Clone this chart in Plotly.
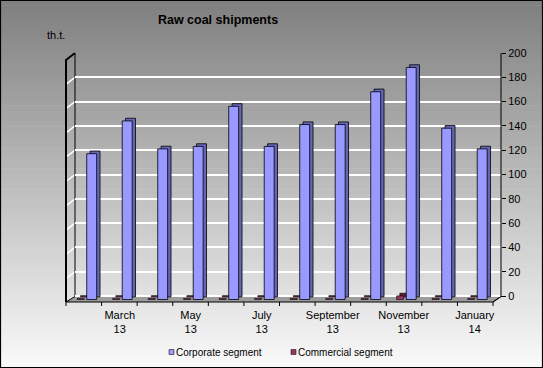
import plotly.graph_objects as go

months = ["February<br>13", "March<br>13", "April<br>13", "May<br>13", "June<br>13", "July<br>13",
          "August<br>13", "September<br>13", "October<br>13", "November<br>13", "December<br>13", "January<br>14"]
tick_labels = ["", "March<br>13", "", "May<br>13", "", "July<br>13",
               "", "September<br>13", "", "November<br>13", "", "January<br>14"]
corporate = [120, 147, 124, 126, 159, 126, 144, 144, 171, 191, 141, 124]
commercial = [1, 1, 1, 1, 1, 1, 1, 1, 1, 3, 1, 1]
series_names = ["Corporate segment", "Commercial segment"]
y_ticks = [0, 20, 40, 60, 80, 100, 120, 140, 160, 180, 200]

W, H = 543, 368
L, R, T, B = 75, 42, 53, 66
pw, ph = W - L - R, H - T - B
Y0PX = 296  # pixel row of value 0 on the back wall

def px(x):
    return (x - L) / pw

def py(y):
    return (H - B - y) / ph

FONT = "Liberation Sans, Arial, sans-serif"
BLUE, BLUE_SIDE = "#9999FF", "#6565B5"
RED, RED_SIDE = "#993366", "#5A1E3A"
DEPTH = 2.9   # 3-D projection shift (value units) of bar fronts below the back wall
SIDE = 2.2

fig = go.Figure()
fig.add_trace(go.Bar(x=months, y=corporate, base=[-DEPTH + SIDE] * 12, offset=0.165, width=0.28,
                     marker=dict(color=BLUE_SIDE, line=dict(color="#000000", width=0.8)),
                     showlegend=False, hoverinfo="skip"))
fig.add_trace(go.Bar(x=months, y=commercial, base=[-DEPTH + SIDE] * 12, offset=-0.11, width=0.2,
                     marker=dict(color=RED_SIDE, line=dict(color="#000000", width=0.6)),
                     showlegend=False, hoverinfo="skip"))
fig.add_trace(go.Bar(x=months, y=corporate, base=[-DEPTH] * 12, name=series_names[0], offset=0.07, width=0.28,
                     marker=dict(color=BLUE, line=dict(color="#000000", width=0.8)), showlegend=False))
fig.add_trace(go.Bar(x=months, y=commercial, base=[-DEPTH] * 12, name=series_names[1], offset=-0.2, width=0.2,
                     marker=dict(color=RED, line=dict(color="#000000", width=0.6)), showlegend=False))

shapes = []
# background gradient
n = 70
for i in range(n):
    y0 = H * i / n
    y1 = H * (i + 1) / n + 0.6
    c = int(128 + (250 - 128) * (i / (n - 1)))
    shapes.append(dict(type="rect", xref="paper", yref="paper", x0=px(0), x1=px(W),
                       y0=py(y1), y1=py(y0), fillcolor=f"rgb({c},{c},{c})", line=dict(width=0),
                       layer="below"))
# gridlines continuing on the left wall
for v in y_ticks[1:]:
    yy = Y0PX - v * (Y0PX - 53) / 200
    shapes.append(dict(type="line", xref="paper", yref="paper", x0=px(75), x1=px(66), y0=py(yy), y1=py(yy + 7),
                       line=dict(color="#ffffff", width=1.5), layer="below"))
# floor
shapes.append(dict(type="path", xref="paper", yref="paper",
                   path=f"M {px(75)},{py(296.5)} L {px(501)},{py(296.5)} L {px(493)},{py(302)} L {px(66)},{py(302)} Z",
                   fillcolor="#9c9c9c", line=dict(color="#000000", width=1), layer="below"))
# left wall edges
shapes.append(dict(type="line", xref="paper", yref="paper", x0=px(75), x1=px(75), y0=py(53), y1=py(296.5),
                   line=dict(color="#000000", width=1), layer="below"))
shapes.append(dict(type="path", xref="paper", yref="paper",
                   path=f"M {px(75)},{py(53)} L {px(66)},{py(60)} L {px(66)},{py(302)}",
                   line=dict(color="#000000", width=2)))
# right axis line on back wall
shapes.append(dict(type="line", xref="paper", yref="paper", x0=px(501), x1=px(501), y0=py(53), y1=py(296.5),
                   line=dict(color="#000000", width=1)))
# front tick marks along floor front edge
for i in range(13):
    xx = 66 + i * (493 - 66) / 12
    shapes.append(dict(type="line", xref="paper", yref="paper", x0=px(xx), x1=px(xx), y0=py(302), y1=py(306),
                       line=dict(color="#000000", width=1)))
shapes.append(dict(type="line", xref="paper", yref="paper", x0=px(493), x1=px(501), y0=py(302), y1=py(296.5),
                   line=dict(color="#000000", width=1)))
shapes.append(dict(type="line", xref="paper", yref="paper", x0=px(501), x1=px(505), y0=py(296.5), y1=py(296.5),
                   line=dict(color="#000000", width=1)))
# manual legend markers
leg_x = [169, 291]
for cx, col in zip(leg_x, [BLUE, RED]):
    shapes.append(dict(type="rect", xref="paper", yref="paper", x0=px(cx), x1=px(cx + 5), y0=py(354.5), y1=py(349.5),
                       fillcolor=col, line=dict(color="#333333", width=0.7)))
# border
shapes.append(dict(type="rect", xref="paper", yref="paper", x0=px(0.5), x1=px(W - 0.5), y0=py(H - 0.5), y1=py(0.5),
                   line=dict(color="#000000", width=1.2), fillcolor="rgba(0,0,0,0)"))

annotations = [dict(text="th.t.", xref="paper", yref="paper", x=px(45), y=py(27), showarrow=False,
                    font=dict(size=11, family=FONT))]
for cx, name in zip(leg_x, series_names):
    annotations.append(dict(text=name, xref="paper", yref="paper", x=px(cx + 4.5), y=py(352),
                            xanchor="left", yanchor="middle", showarrow=False,
                            font=dict(size=10, family=FONT)))

fig.update_layout(
    width=W, height=H,
    margin=dict(l=L, r=R, t=T, b=B, autoexpand=False),
    paper_bgcolor="#ffffff", plot_bgcolor="rgba(0,0,0,0)",
    barmode="overlay",
    shapes=shapes,
    annotations=annotations,
    showlegend=False,
    font=dict(family=FONT, size=11, color="#000000"),
    title=dict(text="<b>Raw coal shipments</b>", xref="container", x=218 / W, xanchor="center",
               yref="container", y=1 - 20 / H, yanchor="middle", font=dict(size=12.5, family=FONT)),
    xaxis=dict(tickmode="array", tickvals=months, ticktext=tick_labels, showline=False, ticks="",
               range=[-0.26, 11.74], showgrid=False, tickfont=dict(size=11), ticklabelstandoff=5,
               automargin=False),
    yaxis=dict(side="right", range=[-(H - B - Y0PX) * 200 / (Y0PX - T), 200], tickmode="array", tickvals=y_ticks,
               showgrid=True, gridcolor="#ffffff", gridwidth=1.5,
               showline=False, ticks="outside", ticklen=4,
               tickcolor="#000000", zeroline=False, tickfont=dict(size=11), automargin=False),
)

fig.write_html("out.html", post_script="document.body.style.margin='0';",
               config={"displayModeBar": False})
